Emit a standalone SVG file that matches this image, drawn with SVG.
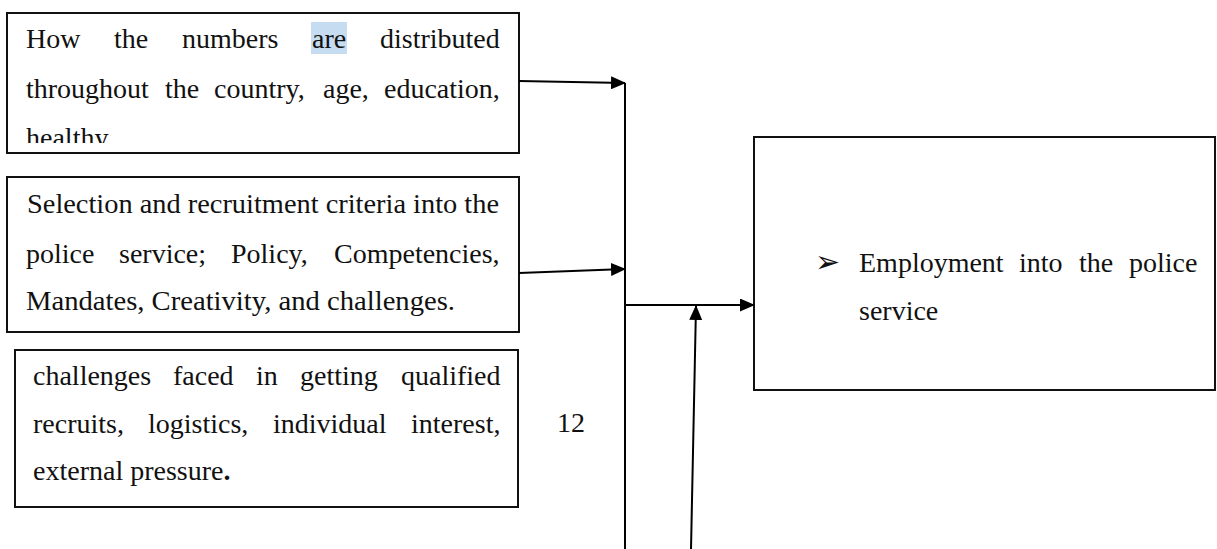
<svg xmlns="http://www.w3.org/2000/svg" width="1217" height="549" viewBox="0 0 1217 549">
<style>
.box{fill:#fff;stroke:#111;stroke-width:2}
.t{font-family:"Liberation Serif","Times New Roman",serif;font-size:28px;fill:#111}
.c{stroke:#000;stroke-width:2;fill:none}
</style>
<defs>
<marker id="ah" markerWidth="15" markerHeight="13" refX="14" refY="6.5" orient="auto" markerUnits="userSpaceOnUse">
<path d="M0,0 L15,6.5 L0,13 Z" fill="#000"/>
</marker>
<clipPath id="c1"><rect x="6" y="13" width="512" height="130"/></clipPath>
</defs>
<rect width="1217" height="549" fill="#fff"/>
<g id="node1">
<rect class="box" x="7" y="13" width="512" height="140"/>
<rect x="311" y="22" width="36" height="32" fill="#c6dcf1"/>
<g clip-path="url(#c1)">
<text class="t" y="48"><tspan x="26">How</tspan><tspan x="114">the</tspan><tspan x="182">numbers</tspan><tspan x="312">are</tspan><tspan x="380">distributed</tspan></text>
<text class="t" y="98"><tspan x="26">throughout</tspan><tspan x="165">the</tspan><tspan x="214">country,</tspan><tspan x="323">age,</tspan><tspan x="384">education,</tspan></text>
<text class="t" x="26" y="147">healthy</text>
</g>
</g>
<g id="node2">
<rect class="box" x="7" y="177" width="512" height="155"/>
<text class="t" x="27" y="213" textLength="472" lengthAdjust="spacingAndGlyphs">Selection and recruitment criteria into the</text>
<text class="t" y="263"><tspan x="26">police</tspan><tspan x="119">service;</tspan><tspan x="231">Policy,</tspan><tspan x="334">Competencies,</tspan></text>
<text class="t" x="26" y="310" textLength="429" lengthAdjust="spacingAndGlyphs">Mandates, Creativity, and challenges.</text>
</g>
<g id="node3">
<rect class="box" x="15" y="350" width="503" height="157"/>
<text class="t" y="385"><tspan x="33">challenges</tspan><tspan x="173">faced</tspan><tspan x="256">in</tspan><tspan x="300">getting</tspan><tspan x="401">qualified</tspan></text>
<text class="t" y="433"><tspan x="33">recruits,</tspan><tspan x="148">logistics,</tspan><tspan x="273">individual</tspan><tspan x="411">interest,</tspan></text>
<text class="t" x="33" y="480">external pressure<tspan font-weight="bold">.</tspan></text>
</g>
<g id="label12">
<text class="t" x="557" y="432">12</text>
</g>
<g id="node4">
<rect class="box" x="754" y="137" width="461" height="253"/>
<text x="815" y="272" font-family="DejaVu Sans, sans-serif" font-size="30" fill="#111">➢</text>
<text class="t" y="272"><tspan x="859">Employment</tspan><tspan x="1019">into</tspan><tspan x="1079">the</tspan><tspan x="1129">police</tspan></text>
<text class="t" x="859" y="320">service</text>
</g>
<g id="connectors">
<line class="c" x1="519" y1="81" x2="625" y2="83" marker-end="url(#ah)"/>
<line class="c" x1="519" y1="273" x2="625" y2="269" marker-end="url(#ah)"/>
<line class="c" x1="625" y1="83" x2="625" y2="549"/>
<line class="c" x1="625" y1="305" x2="754" y2="305" marker-end="url(#ah)"/>
<line class="c" x1="691" y1="549" x2="696" y2="306" marker-end="url(#ah)"/>
</g>
</svg>
